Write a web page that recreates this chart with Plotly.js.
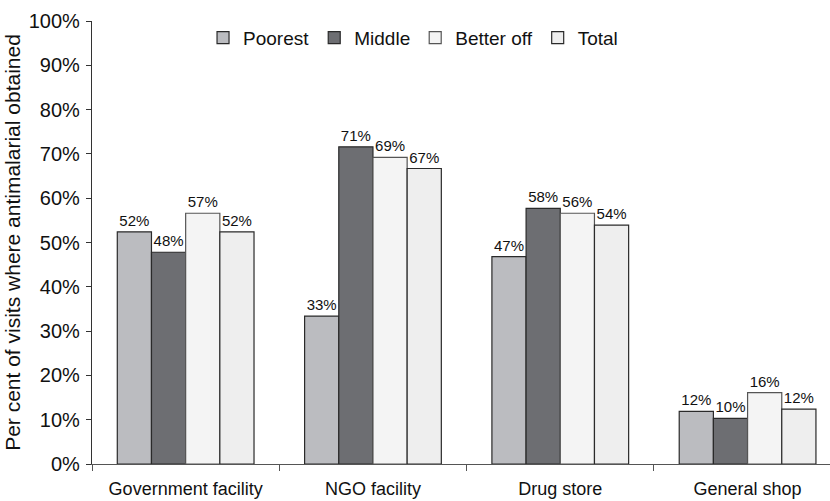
<!DOCTYPE html>
<html>
<head>
<meta charset="utf-8">
<script src="https://cdn.plot.ly/plotly-3.0.1.min.js"></script>
<style>html,body{margin:0;padding:0;background:#fff;}#chart{width:830px;height:501px;}</style>
</head>
<body>
<div id="chart"></div>
<script>
const categories = ["Government facility", "NGO facility", "Drug store", "General shop"];
const poorest = [52.4, 33.4, 46.8, 11.9];
const middle = [47.8, 71.6, 57.7, 10.3];
const betterOff = [56.6, 69.2, 56.6, 16.1];
const total = [52.4, 66.7, 53.9, 12.4];
const poorestLabels = ["52%", "33%", "47%", "12%"];
const middleLabels = ["48%", "71%", "58%", "10%"];
const betterOffLabels = ["57%", "69%", "56%", "16%"];
const totalLabels = ["52%", "67%", "54%", "12%"];
const yTickVals = [0, 10, 20, 30, 40, 50, 60, 70, 80, 90, 100];
const yTickText = ["0%", "10%", "20%", "30%", "40%", "50%", "60%", "70%", "80%", "90%", "100%"];

const FONT = "Liberation Sans, Arial, sans-serif";
function series(name, y, labels, color, lineColor) {
  return {
    type: "bar", name: name, x: categories, y: y,
    text: labels, textposition: "outside", texttemplate: "%{text}",
    constraintext: "none", cliponaxis: false,
    textfont: {family: FONT, size: 15, color: "#111"},
    marker: {color: color, line: {color: lineColor, width: 1.2}},
    hoverinfo: "none"
  };
}
const data = [
  series("Poorest", poorest, poorestLabels, "#bbbcc0", "#2a2a2a"),
  series("Middle", middle, middleLabels, "#6d6e72", "#2a2a2a"),
  series("Better off", betterOff, betterOffLabels, "#f4f4f4", "#555555"),
  series("Total", total, totalLabels, "#eeeeee", "#2a2a2a")
];
const layout = {
  width: 830, height: 501,
  margin: {l: 92, r: 0, t: 21, b: 37, pad: 0},
  paper_bgcolor: "#fff", plot_bgcolor: "#fff",
  font: {family: FONT, size: 18, color: "#111"},
  barmode: "group", bargap: 0.27, bargroupgap: 0,
  showlegend: true,
  legend: {orientation: "h", x: 0.435, xanchor: "center", y: 1.005, yanchor: "top",
           font: {family: FONT, size: 19, color: "#111"}, traceorder: "normal",
           itemwidth: 30, bgcolor: "rgba(0,0,0,0)"},
  xaxis: {
    type: "category", range: [-0.5, 3.44],
    showline: true, linecolor: "#555", linewidth: 1.2,
    ticks: "outside", tickson: "boundaries", ticklen: 6, tickcolor: "#555",
    ticklabelstandoff: 8,
    tickfont: {family: FONT, size: 18, color: "#111"},
    showgrid: false, zeroline: false, fixedrange: true
  },
  yaxis: {
    range: [0, 100], tickvals: yTickVals, ticktext: yTickText,
    showline: true, linecolor: "#333", linewidth: 1.2,
    ticks: "outside", ticklen: 5, tickcolor: "#333",
    ticklabelstandoff: 2,
    tickfont: {family: FONT, size: 20, color: "#111"},
    showgrid: false, zeroline: false,
    title: {text: "Per cent of visits where antimalarial obtained", font: {family: FONT, size: 21, color: "#111"}, standoff: 2}
  }
};
Plotly.newPlot("chart", data, layout, {displayModeBar: false, staticPlot: true});
</script>
</body>
</html>
